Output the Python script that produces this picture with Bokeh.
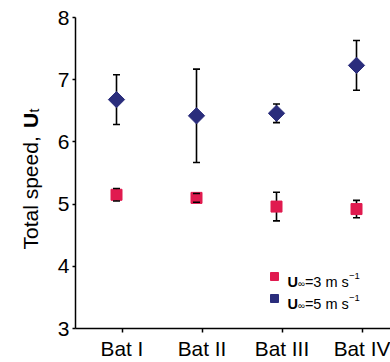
import math
from bokeh.plotting import figure
from bokeh.layouts import row
from bokeh.models import (ColumnDataSource, Whisker, TeeHead, Range1d, FixedTicker,
                          Legend, LegendItem, Label)
from bokeh.embed import file_html
from bokeh.resources import INLINE

# ---- data ----
bats = ["Bat I", "Bat II", "Bat III", "Bat IV"]
u3_mean = [5.15, 5.10, 4.96, 4.92]
u3_err = [0.10, 0.07, 0.23, 0.14]
u5_mean = [6.68, 6.42, 6.46, 7.23]
u5_err = [0.40, 0.75, 0.15, 0.40]
y_ticks = [3, 4, 5, 6, 7, 8]

RED = "#E01A4F"
NAVY = "#2A2D7C"
FONT = "Liberation Sans"

W, H = 390, 362
LW = 45                      # width of the y-label strip
AXIS_X = 75                  # pixel of y axis line in page
LEFT = AXIS_X - LW
TOP, BOTTOM = 17, 32
PX_PER_CAT = 80.0
x_lo = 1 - 41 / PX_PER_CAT
x_hi = x_lo + (W - AXIS_X) / PX_PER_CAT
y_lo, y_hi = 3, 8
TICK_SHIFT = 5.5 / PX_PER_CAT   # category ticks/labels sit slightly right of the points

# ---- y-label strip ----
lab = figure(frame_width=LW, frame_height=H, output_backend="svg", toolbar_location=None,
             x_range=Range1d(0, LW), y_range=Range1d(0, H),
             x_axis_type=None, y_axis_type=None,
             min_border_left=0, min_border_right=0,
             min_border_top=0, min_border_bottom=0)
lab.outline_line_color = None
lab.xgrid.visible = False
lab.ygrid.visible = False
lab.border_fill_color = "white"
lab.background_fill_color = "white"

def ylab(txt, px, py, size, style="normal"):
    lab.add_layout(Label(x=px, y=H - py, x_units="screen", y_units="screen",
                         text=txt, angle=math.pi / 2, text_font=FONT,
                         text_font_style=style, text_font_size=f"{size}px",
                         text_align="left", text_baseline="alphabetic",
                         text_color="black"))

ylab("Total speed, ", 30, 232, 21)
ylab("U", 30, 110.5, 21, "bold")
ylab("t", 33, 95, 14)

# ---- main plot ----
p = figure(width=W - LW, height=H, output_backend="svg", toolbar_location=None,
           x_range=Range1d(x_lo, x_hi), y_range=Range1d(y_lo, y_hi),
           min_border_left=LEFT, min_border_right=0, min_border_top=TOP,
           min_border_bottom=BOTTOM)
p.outline_line_color = None
p.xgrid.visible = False
p.ygrid.visible = False
p.background_fill_color = "white"
p.border_fill_color = "white"

xs = list(range(1, len(bats) + 1))

src3 = ColumnDataSource(dict(x=xs, y=u3_mean,
                             lo=[m - e for m, e in zip(u3_mean, u3_err)],
                             hi=[m + e for m, e in zip(u3_mean, u3_err)]))
src5 = ColumnDataSource(dict(x=xs, y=u5_mean,
                             lo=[m - e for m, e in zip(u5_mean, u5_err)],
                             hi=[m + e for m, e in zip(u5_mean, u5_err)]))

for src in (src5, src3):
    stem = Whisker(base="x", lower="lo", upper="hi", source=src, level="underlay",
                   line_color="black", line_width=1.6,
                   upper_head=None, lower_head=None)
    caps = Whisker(base="x", lower="lo", upper="hi", source=src, level="overlay",
                   line_alpha=0,
                   upper_head=TeeHead(size=7, line_color="black", line_width=1.6),
                   lower_head=TeeHead(size=7, line_color="black", line_width=1.6))
    p.add_layout(stem)
    p.add_layout(caps)

r3 = p.scatter("x", "y", source=src3, marker="square", size=11,
               fill_color=RED, line_color=RED)
r5 = p.scatter("x", "y", source=src5, marker="square", size=11.5, angle=math.pi / 4,
               fill_color=NAVY, line_color=NAVY)

# axes
tick_pos = [i + TICK_SHIFT for i in xs]
p.xaxis.ticker = FixedTicker(ticks=tick_pos)
p.xaxis.major_label_overrides = {t: b for t, b in zip(tick_pos, bats)}
p.yaxis.ticker = FixedTicker(ticks=y_ticks)
for ax in (p.xaxis[0], p.yaxis[0]):
    ax.axis_line_color = "black"
    ax.axis_line_width = 1.5
    ax.major_tick_line_color = "black"
    ax.major_tick_line_width = 1.5
    ax.major_tick_in = 0
    ax.minor_tick_line_color = None
    ax.major_label_text_font = FONT
    ax.major_label_text_color = "black"
p.yaxis.major_tick_out = 3
p.yaxis.major_label_text_font_size = "21px"
p.yaxis.major_label_standoff = 3
p.xaxis.major_tick_out = 4
p.xaxis.major_label_text_font_size = "20.8px"
p.xaxis.major_label_standoff = 4

# pixel (page) -> data for text placement inside the frame
def dx(px):
    return x_lo + (px - AXIS_X) / PX_PER_CAT

def dy(py):
    return y_hi - (py - TOP) * (y_hi - y_lo) / (H - TOP - BOTTOM)

# legend markers
legend = Legend(items=[LegendItem(label=" ", renderers=[r3]),
                       LegendItem(label=" ", renderers=[r5])],
                location=(189, 19), border_line_color=None, background_fill_alpha=0,
                glyph_width=20, glyph_height=22, spacing=0, padding=0, margin=0,
                label_text_font_size="8px", label_width=1, label_standoff=0)
p.add_layout(legend)

# legend texts
def rich(px, py, pieces):
    x = px
    for txt, style, size, rise, width in pieces:
        p.add_layout(Label(x=dx(x), y=dy(py - rise), text=txt, text_font=FONT,
                           text_font_style=style, text_font_size=f"{size}px",
                           text_align="left", text_baseline="alphabetic", text_color="black"))
        x += width

for py, val in ((283, "3"), (305, "5")):
    rich(287, py, [("U", "bold", 14.5, 0, 10.6),
                   ("\u221e", "normal", 9.5, -2, 6.8),
                   (f"={val} m s", "normal", 14.5, 0, 44),
                   ("\u22121", "normal", 9.5, 6, 10)])

layout = row(lab, p, spacing=0)
open("out.html", "w").write(file_html(layout, INLINE))
